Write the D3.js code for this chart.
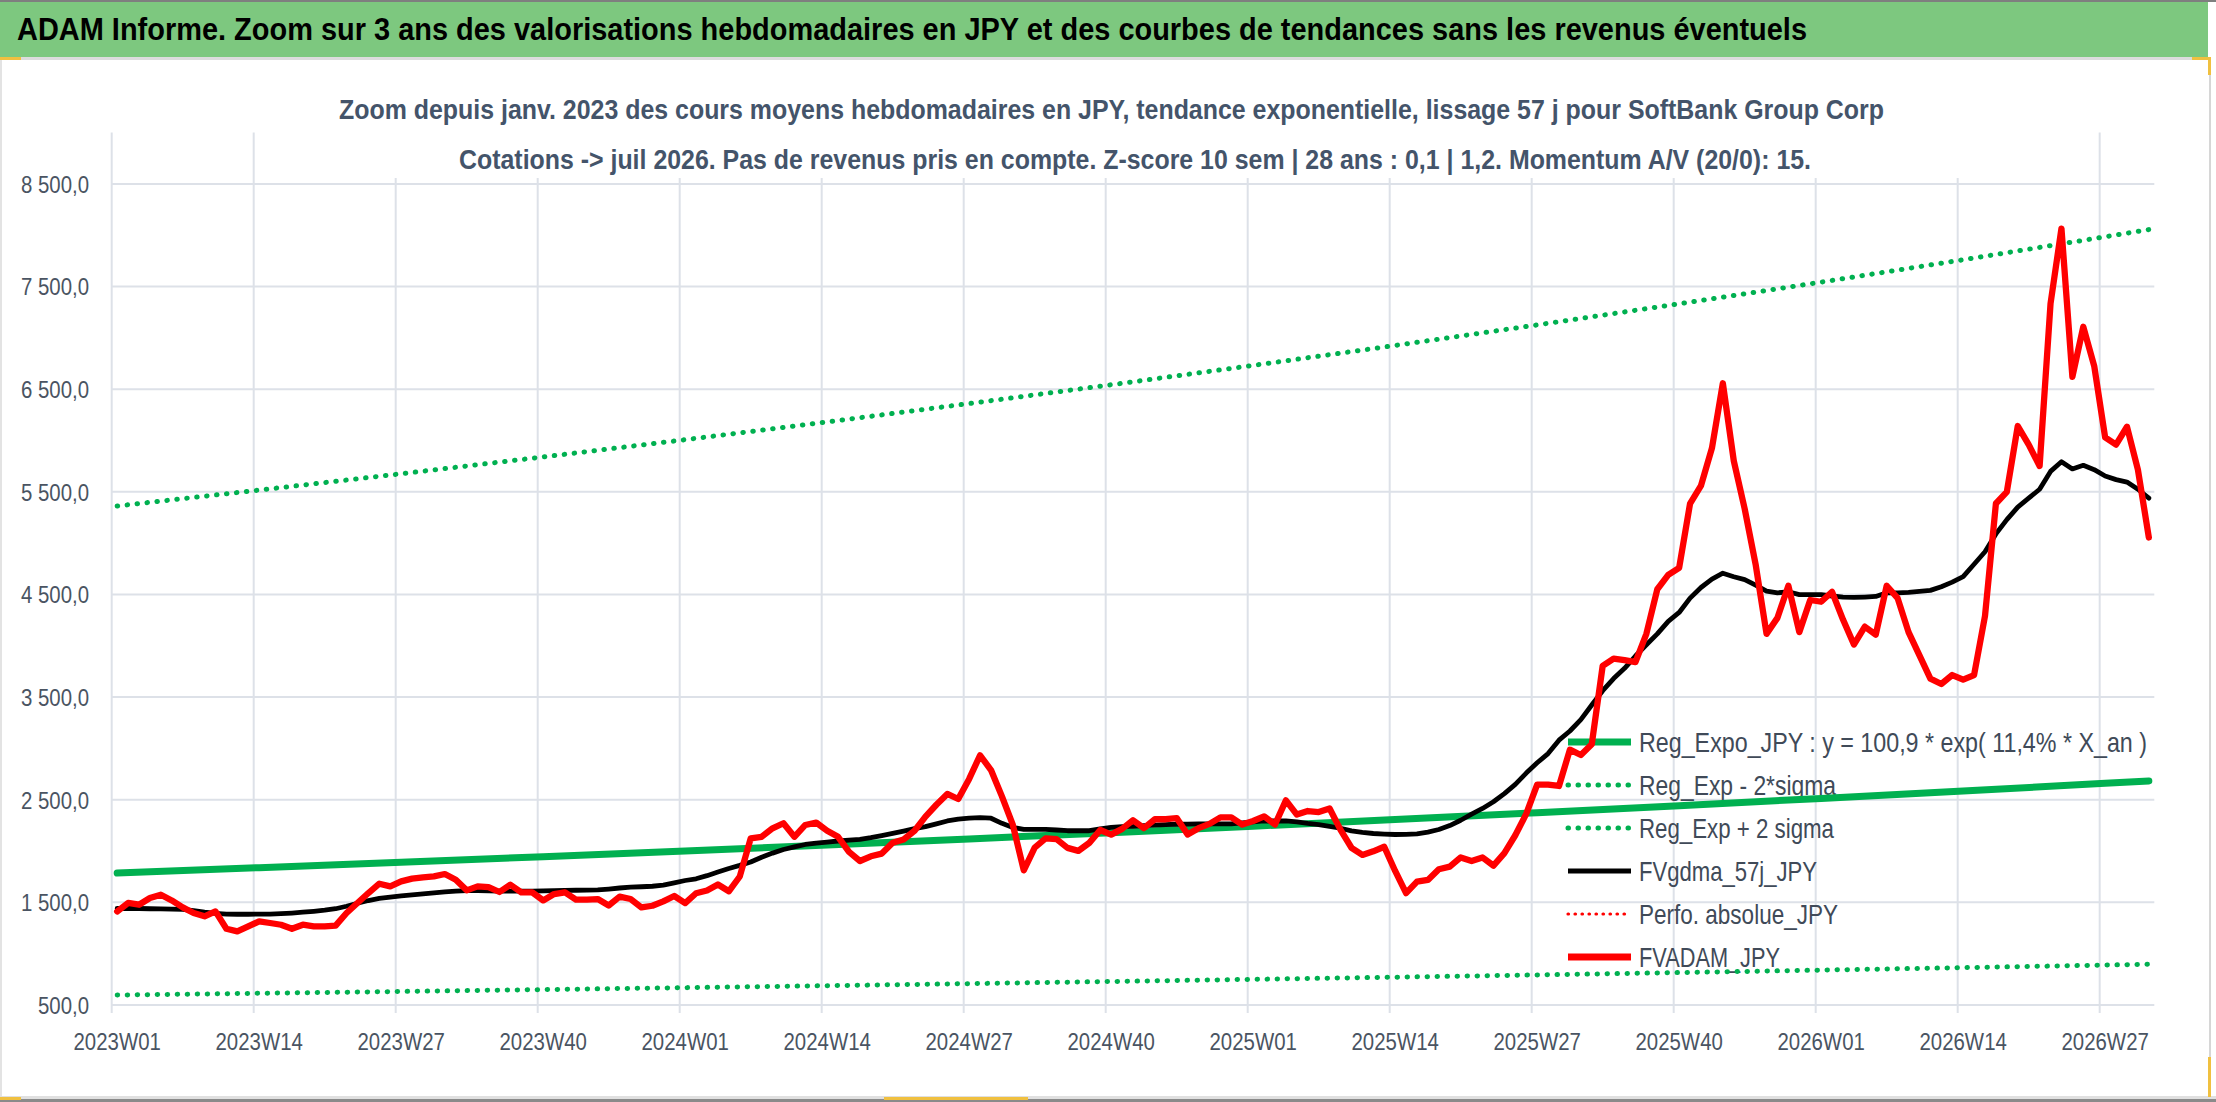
<!DOCTYPE html>
<html><head><meta charset="utf-8">
<script src="https://cdn.jsdelivr.net/npm/d3@7"></script>
<style>
body{margin:0;background:#fff;overflow:hidden}
svg{display:block}
text{font-family:"Liberation Sans",Arial,sans-serif}
</style>
</head><body>
<svg id="chart" width="2216" height="1102"></svg>
<script>
// ---------------- DATA ----------------
const yearWeeks = [[2023,52],[2024,52],[2025,52],[2026,31]];
const categories = [];
yearWeeks.forEach(([yr,n])=>{for(let w=1;w<=n;w++)categories.push(yr+"W"+String(w).padStart(2,"0"));});

const tickLabels = ["2023W01","2023W14","2023W27","2023W40","2024W01","2024W14","2024W27","2024W40",
  "2025W01","2025W14","2025W27","2025W40","2026W01","2026W14","2026W27"];
const yTicks = [500,1500,2500,3500,4500,5500,6500,7500,8500];

// FVADAM_JPY (weekly, red)
const fvadam = [1412,1494,1477,1542,1575,1519,1451,1396,1364,1412,
1243,1217,1266,1315,1299,1282,1243,1282,1266,1266,
1273,1396,1494,1591,1682,1656,1705,1731,1744,1753,
1776,1721,1617,1656,1649,1601,1672,1597,1597,1519,
1581,1597,1526,1526,1532,1470,1556,1533,1451,1467,
1510,1562,1493,1589,1615,1674,1608,1752,2123,2139,
2221,2271,2139,2254,2277,2198,2139,1992,1903,1949,
1975,2080,2113,2198,2336,2451,2556,2507,2703,2933,
2789,2533,2254,1812,2034,2123,2116,2031,2002,2080,
2205,2160,2216,2300,2223,2310,2310,2321,2161,2223,
2265,2328,2328,2258,2293,2338,2258,2494,2355,2390,
2380,2415,2206,2032,1962,1997,2042,1806,1590,1702,
1719,1823,1848,1938,1903,1938,1858,1980,2154,2362,
2648,2648,2634,2988,2936,3040,3805,3875,3860,3840,
4116,4551,4690,4760,5386,5560,5925,6558,5803,5334,
4794,4116,4272,4585,4133,4446,4429,4526,4255,4012,
4186,4109,4585,4464,4133,3907,3680,3628,3715,3670,
3715,4290,5386,5500,6141,5960,5751,7334,8065,6621,
7108,6725,6030,5960,6134,5716,5055];

// FVgdma_57j_JPY (black)
const fvgdma = [1440,1440,1440,1438,1436,1434,1432,1420,1405,1393,
1386,1384,1384,1385,1386,1390,1396,1404,1413,1424,
1438,1462,1492,1518,1538,1552,1563,1573,1583,1593,
1603,1610,1614,1614,1612,1610,1610,1610,1610,1612,
1614,1616,1618,1620,1622,1630,1640,1648,1652,1657,
1668,1690,1713,1730,1760,1795,1830,1860,1893,1940,
1980,2015,2040,2064,2078,2088,2098,2106,2114,2130,
2150,2172,2195,2218,2238,2265,2293,2310,2320,2326,
2320,2270,2230,2212,2212,2212,2205,2198,2198,2198,
2216,2231,2238,2241,2247,2253,2258,2261,2263,2265,
2265,2265,2265,2275,2285,2293,2293,2293,2285,2270,
2258,2241,2222,2196,2182,2171,2165,2161,2162,2168,
2185,2210,2248,2300,2360,2415,2480,2560,2650,2760,
2860,2950,3080,3170,3280,3423,3562,3680,3780,3900,
4010,4116,4238,4325,4464,4568,4650,4707,4673,4645,
4590,4533,4516,4526,4499,4499,4499,4485,4475,4471,
4475,4481,4516,4516,4520,4530,4540,4575,4620,4673,
4794,4916,5090,5229,5351,5438,5525,5699,5793,5723,
5758,5716,5654,5619,5595,5525,5438];

// Trend curves read at sample weeks
const trendIdx  = [0,13,26,39,52,65,78,91,104,117,130,143,156,169,182,186];
const regExpo   = [1786,1838,1890,1945,2001,2059,2118,2179,2242,2307,2374,2442,2513,2585,2660,2683];
const regLow    = [597,614,632,650,669,688,708,729,750,771,793,816,840,864,889,897];
const regHigh   = [5362,5517,5676,5840,6008,6181,6360,6543,6732,6926,7126,7332,7543,7761,7985,8055];

const legendItems = [
  {label:"Reg_Expo_JPY : y = 100,9 * exp( 11,4% *  X_an )", color:"#00B050", w:7, dash:null, len:508},
  {label:"Reg_Exp - 2*sigma", color:"#00B050", w:5, dash:"0.5 9.5", len:197},
  {label:"Reg_Exp + 2 sigma", color:"#00B050", w:5, dash:"0.5 9.5", len:195},
  {label:"FVgdma_57j_JPY", color:"#000000", w:5, dash:null, len:178},
  {label:"Perfo. absolue_JPY", color:"#FF0000", w:3.2, dash:"0.5 6.5", len:199},
  {label:"FVADAM_JPY", color:"#FF0000", w:7, dash:null, len:141}
];

const titleText = "ADAM Informe. Zoom sur 3 ans des valorisations hebdomadaires en JPY et des courbes de tendances sans les revenus éventuels";
const sub1 = "Zoom depuis janv. 2023 des cours moyens hebdomadaires en JPY, tendance exponentielle, lissage 57 j pour SoftBank Group Corp";
const sub2 = "Cotations -> juil 2026. Pas de revenus pris en compte. Z-score 10 sem | 28 ans : 0,1 | 1,2. Momentum A/V (20/0): 15.";

// ---------------- DRAW ----------------
const svg = d3.select("#chart");
const X0 = 111.7, STEP = 10.923;
const x = d3.scaleBand().domain(categories).range([X0, X0 + STEP*categories.length]).padding(0);
const bw = x.bandwidth();
const y = d3.scaleLinear().domain([500,9000]).range([1005,132.6]);
const xc = i => x(categories[i]) + bw/2;
const [plotL, plotR] = x.range();
const NARROW = 0.85;
function condense(sel, f){ sel.each(function(){ const n=this.getComputedTextLength(); this.setAttribute("textLength", n*f); this.setAttribute("lengthAdjust","spacingAndGlyphs"); }); }

// frame
svg.append("rect").attr("x",0).attr("y",0).attr("width",2216).attr("height",1102).attr("fill","#fff");
svg.append("rect").attr("x",0).attr("y",0).attr("width",2216).attr("height",2).attr("fill","#7f7f7f");
svg.append("rect").attr("x",0).attr("y",2).attr("width",2208).attr("height",55).attr("fill","#7dc87f");
svg.append("rect").attr("x",0).attr("y",57).attr("width",2210).attr("height",3).attr("fill","#dcdcdc");
svg.append("line").attr("x1",1).attr("x2",1).attr("y1",60).attr("y2",1097).attr("stroke","#e3e3e3").attr("stroke-width",2);
svg.append("line").attr("x1",2210).attr("x2",2210).attr("y1",57).attr("y2",1097).attr("stroke","#d6d6d6").attr("stroke-width",2);
svg.append("rect").attr("x",0).attr("y",1096).attr("width",2216).attr("height",3).attr("fill","#e0e0e0");
svg.append("rect").attr("x",0).attr("y",1099).attr("width",2216).attr("height",3).attr("fill","#8a8a8a");
// selection handle marks
svg.append("rect").attr("x",0).attr("y",57).attr("width",21).attr("height",3).attr("fill","#f0c040");
svg.append("rect").attr("x",2192).attr("y",57).attr("width",18).attr("height",3).attr("fill","#f0c040");
svg.append("rect").attr("x",2208).attr("y",57).attr("width",3).attr("height",18).attr("fill","#f0c040");
svg.append("rect").attr("x",2208).attr("y",1057).attr("width",3).attr("height",40).attr("fill","#f0c040");
svg.append("rect").attr("x",0).attr("y",1097).attr("width",21).attr("height",3).attr("fill","#f0c040");
svg.append("rect").attr("x",884).attr("y",1097).attr("width",144).attr("height",3).attr("fill","#f0c040");

// title
svg.append("text").attr("x",17).attr("y",40).text(titleText)
  .attr("font-size",31).attr("font-weight","bold").attr("fill","#000")
  .attr("textLength",1790).attr("lengthAdjust","spacingAndGlyphs");

// gridlines
const grid = svg.append("g");
grid.selectAll("line.h").data(yTicks).join("line").attr("class","h")
  .attr("x1",plotL).attr("x2",plotR).attr("y1",d=>y(d)).attr("y2",d=>y(d))
  .attr("stroke","#dde1e8").attr("stroke-width",2);
grid.selectAll("line.v").data(tickLabels).join("line").attr("class","v")
  .attr("x1",d=>x(d)).attr("x2",d=>x(d)).attr("y1",y(9000)).attr("y2",1013)
  .attr("stroke","#dde1e8").attr("stroke-width",2);

// subtitle box
svg.append("rect").attr("x",300).attr("y",62).attr("width",1700).attr("height",116).attr("fill","#fff");
svg.append("text").attr("x",339).attr("y",119).text(sub1)
  .attr("font-size",27).attr("font-weight","bold").attr("fill","#44546a")
  .attr("textLength",1545).attr("lengthAdjust","spacingAndGlyphs");
svg.append("text").attr("x",459).attr("y",169).text(sub2)
  .attr("font-size",27).attr("font-weight","bold").attr("fill","#44546a")
  .attr("textLength",1352).attr("lengthAdjust","spacingAndGlyphs");

// axes
const fr = d3.formatLocale({decimal:",", thousands:"\u00a0", grouping:[3], currency:["",""]});
const fmt = fr.format(",.1f");
const yAxis = svg.append("g").attr("transform","translate(89,0)")
  .call(d3.axisLeft(y).tickValues(yTicks).tickSize(0).tickPadding(0).tickFormat(fmt));
yAxis.select(".domain").remove();
yAxis.selectAll("text").attr("font-size",24).attr("fill","#4a5462").attr("dy","0.35em")
  .style("font-family",'"Liberation Sans",Arial,sans-serif');
condense(yAxis.selectAll("text"), NARROW);

const xAxis = svg.append("g").attr("transform","translate(0,1005)")
  .call(d3.axisBottom(x).tickValues(tickLabels).tickSize(0).tickPadding(0));
xAxis.select(".domain").remove();
xAxis.selectAll("text").attr("font-size",24).attr("fill","#4a5462").attr("y",45).attr("dy",0)
  .style("font-family",'"Liberation Sans",Arial,sans-serif');
condense(xAxis.selectAll("text"), NARROW);

// legend
const lg = svg.append("g");
const LX = 1568, LT = 1639, LY0 = 742, LDY = 43;
legendItems.forEach((it,k)=>{
  const yy = LY0 + k*LDY;
  lg.append("line").attr("x1",LX).attr("x2",LX+63).attr("y1",yy).attr("y2",yy)
    .attr("stroke",it.color).attr("stroke-width",it.w)
    .attr("stroke-linecap",it.dash?"round":"butt")
    .attr("stroke-dasharray",it.dash);
  lg.append("text").attr("x",LT).attr("y",yy+10).text(it.label)
    .attr("font-size",28).attr("fill","#404a58")
    .attr("textLength",it.len).attr("lengthAdjust","spacingAndGlyphs");
});

// series
const line = d3.line().x((d,i)=>xc(i)).y(d=>y(d));
const tline = d3.line().x((d,i)=>xc(trendIdx[i])).y(d=>y(d));
const series = svg.append("g").attr("fill","none").attr("stroke-linejoin","round");
series.append("path").datum(regExpo).attr("d",tline).attr("stroke","#00B050").attr("stroke-width",7).attr("stroke-linecap","round");
series.append("path").datum(regLow).attr("d",tline).attr("stroke","#00B050").attr("stroke-width",5)
  .attr("stroke-linecap","round").attr("stroke-dasharray","0.5 9.5");
series.append("path").datum(regHigh).attr("d",tline).attr("stroke","#00B050").attr("stroke-width",5)
  .attr("stroke-linecap","round").attr("stroke-dasharray","0.5 9.5");
series.append("path").datum(fvgdma).attr("d",line).attr("stroke","#000").attr("stroke-width",4.8).attr("stroke-linecap","round");
series.append("path").datum(fvadam).attr("d",line).attr("stroke","#FF0000").attr("stroke-width",6.3).attr("stroke-linecap","round");
</script>
</body></html>
